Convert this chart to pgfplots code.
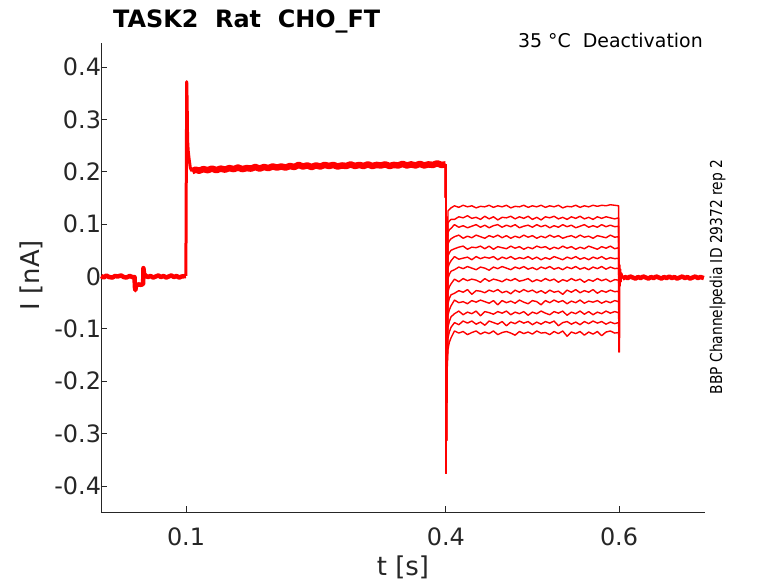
\documentclass[border=0pt]{standalone}
\usepackage{pgfplots}
\pgfplotsset{compat=1.18}
\usepackage{pgfplotstable}
\usepackage{fontspec}
\setmainfont{DejaVu Sans}
\definecolor{axgray}{RGB}{38,38,38}
\definecolor{tracered}{RGB}{255,0,0}

\pgfplotstableread{
t      a      b      c      d      e      f      g      h      i      j      k      l      m
0.3998 0.214  0.214  0.214  0.214  0.214  0.214  0.214  0.214  0.214  0.214  0.214  0.214  0.214
0.4003 -0.375 -0.375 -0.375 -0.375 -0.375 -0.375 -0.375 -0.375 -0.375 -0.375 -0.375 -0.375 -0.375
0.4010 -0.200 -0.200 -0.200 -0.200 -0.200 -0.200 -0.200 -0.200 -0.200 -0.200 -0.200 -0.200 -0.200
0.4025 0.125  0.102  0.084  0.062  0.039  0.017  -0.004 -0.029 -0.052 -0.074 -0.097 -0.118 -0.139
0.4040 0.128  0.106  0.089  0.068  0.045  0.024  0.004  -0.020 -0.042 -0.064 -0.086 -0.106 -0.126
0.4060 0.131  0.109  0.092  0.072  0.050  0.030  0.010  -0.014 -0.035 -0.056 -0.077 -0.097 -0.117
0.410  0.135  0.109  0.099  0.076  0.053  0.038  0.013  -0.005 -0.032 -0.045 -0.071 -0.088 -0.104
0.415  0.132  0.114  0.094  0.079  0.056  0.033  0.018  -0.010 -0.027 -0.050 -0.066 -0.092 -0.108
0.420  0.136  0.112  0.097  0.073  0.058  0.035  0.015  -0.004 -0.030 -0.048 -0.073 -0.085 -0.105
0.425  0.133  0.116  0.093  0.077  0.052  0.037  0.019  -0.008 -0.025 -0.052 -0.068 -0.089 -0.111
0.430  0.135  0.111  0.096  0.074  0.056  0.032  0.016  -0.005 -0.034 -0.046 -0.071 -0.085 -0.107
0.435  0.131  0.113  0.099  0.079  0.055  0.038  0.013  -0.007 -0.027 -0.049 -0.066 -0.091 -0.104
0.440  0.134  0.109  0.094  0.076  0.058  0.034  0.018  -0.011 -0.028 -0.045 -0.075 -0.087 -0.110
0.445  0.133  0.115  0.098  0.073  0.053  0.037  0.016  -0.004 -0.031 -0.048 -0.067 -0.093 -0.106
0.450  0.136  0.110  0.093  0.078  0.058  0.035  0.012  -0.009 -0.026 -0.051 -0.069 -0.085 -0.109
0.455  0.132  0.114  0.097  0.075  0.052  0.038  0.018  -0.005 -0.029 -0.046 -0.072 -0.088 -0.104
0.460  0.135  0.108  0.099  0.079  0.057  0.032  0.015  -0.007 -0.025 -0.054 -0.067 -0.091 -0.111
0.465  0.133  0.113  0.094  0.074  0.055  0.037  0.019  -0.010 -0.031 -0.046 -0.070 -0.086 -0.107
0.470  0.136  0.112  0.098  0.078  0.053  0.034  0.016  -0.005 -0.028 -0.050 -0.066 -0.094 -0.105
0.475  0.131  0.115  0.095  0.073  0.058  0.038  0.013  -0.008 -0.033 -0.047 -0.073 -0.087 -0.108
0.480  0.134  0.110  0.099  0.077  0.054  0.033  0.018  -0.004 -0.026 -0.051 -0.068 -0.090 -0.112
0.485  0.133  0.114  0.093  0.074  0.057  0.036  0.015  -0.009 -0.030 -0.045 -0.071 -0.085 -0.105
0.490  0.136  0.111  0.096  0.079  0.052  0.034  0.019  -0.007 -0.025 -0.049 -0.067 -0.089 -0.109
0.495  0.132  0.115  0.098  0.075  0.056  0.038  0.014  -0.004 -0.029 -0.052 -0.074 -0.086 -0.106
0.500  0.135  0.109  0.094  0.078  0.053  0.033  0.017  -0.010 -0.026 -0.046 -0.068 -0.092 -0.110
0.505  0.133  0.113  0.099  0.073  0.058  0.037  0.013  -0.006 -0.031 -0.048 -0.071 -0.087 -0.104
0.510  0.136  0.108  0.095  0.077  0.055  0.032  0.018  -0.009 -0.027 -0.054 -0.066 -0.091 -0.108
0.515  0.132  0.114  0.098  0.074  0.057  0.036  0.015  -0.004 -0.032 -0.046 -0.070 -0.086 -0.107
0.520  0.135  0.112  0.093  0.079  0.052  0.033  0.019  -0.008 -0.026 -0.050 -0.073 -0.089 -0.111
0.525  0.133  0.115  0.097  0.075  0.056  0.038  0.014  -0.005 -0.030 -0.045 -0.067 -0.085 -0.105
0.530  0.136  0.110  0.094  0.078  0.053  0.035  0.017  -0.011 -0.028 -0.049 -0.070 -0.094 -0.109
0.535  0.131  0.113  0.099  0.073  0.058  0.032  0.013  -0.006 -0.034 -0.046 -0.066 -0.088 -0.104
0.540  0.134  0.109  0.095  0.076  0.054  0.037  0.018  -0.009 -0.026 -0.052 -0.074 -0.086 -0.114
0.545  0.133  0.114  0.098  0.078  0.057  0.034  0.015  -0.004 -0.030 -0.047 -0.068 -0.091 -0.106
0.550  0.136  0.111  0.093  0.074  0.052  0.038  0.019  -0.008 -0.025 -0.050 -0.071 -0.087 -0.109
0.555  0.132  0.115  0.096  0.079  0.056  0.033  0.014  -0.005 -0.031 -0.045 -0.066 -0.092 -0.105
0.560  0.135  0.110  0.099  0.075  0.053  0.036  0.017  -0.011 -0.027 -0.051 -0.072 -0.086 -0.112
0.565  0.133  0.113  0.094  0.077  0.058  0.032  0.013  -0.006 -0.030 -0.047 -0.067 -0.090 -0.106
0.570  0.136  0.109  0.097  0.073  0.055  0.037  0.018  -0.009 -0.025 -0.049 -0.073 -0.085 -0.110
0.575  0.134  0.114  0.094  0.078  0.052  0.034  0.015  -0.004 -0.032 -0.046 -0.068 -0.089 -0.105
0.580  0.136  0.111  0.099  0.076  0.057  0.038  0.019  -0.008 -0.027 -0.051 -0.071 -0.086 -0.113
0.585  0.135  0.114  0.095  0.074  0.054  0.033  0.014  -0.005 -0.030 -0.047 -0.066 -0.091 -0.106
0.590  0.137  0.112  0.098  0.079  0.058  0.036  0.018  -0.010 -0.026 -0.050 -0.070 -0.087 -0.104
0.595  0.136  0.110  0.095  0.075  0.053  0.034  0.015  -0.006 -0.029 -0.046 -0.067 -0.090 -0.108
0.5995 0.135  0.112  0.096  0.076  0.055  0.035  0.016  -0.007 -0.028 -0.048 -0.069 -0.088 -0.107
0.6002 -0.145 -0.140 -0.140 -0.138 -0.138 -0.136 -0.136 -0.134 -0.134 -0.132 -0.132 -0.130 -0.130
}\traces

\begin{document}
\begin{tikzpicture}
\useasboundingbox (-101bp,-71bp) rectangle (677bp,512bp);
\begin{axis}[
  at={(0,0)}, anchor=south west,
  scale only axis, width=604bp, height=469bp,
  xmin=0.0018, xmax=0.6993, ymin=-0.4496, ymax=0.4458,
  axis x line*=bottom, axis y line*=left,
  axis line style={-, draw=axgray, line width=0.8bp},
  xtick={0.1,0.4,0.6},
  ytick={-0.4,-0.3,-0.2,-0.1,0,0.1,0.2,0.3,0.4},
  tick align=inside, major tick length=6bp,
  tick style={draw=axgray, line width=0.8bp},
  /pgf/number format/assume math mode=true,
  /pgf/number format/fixed,
  ticklabel style={font=\fontsize{24}{24}\selectfont, text=axgray},
  xticklabel style={yshift=-12bp},
  yticklabel style={xshift=3.5bp},
  clip=false,
]
% baseline before the step
\addplot[tracered, line width=4.5bp, line join=round] coordinates {
(0.002,0.001) (0.005,-0.002) (0.008,0.002) (0.011,-0.001) (0.015,-0.002) (0.018,0.001)
(0.021,0.000) (0.025,0.002) (0.028,-0.001) (0.031,-0.002) (0.035,0.001) (0.038,-0.001)
(0.0405,-0.001) (0.0410,-0.020) (0.0415,-0.026) (0.0422,-0.018) (0.045,-0.015)
(0.048,-0.016) (0.0505,-0.014) (0.0508,0.016) (0.0514,0.006) (0.053,0.002)
(0.056,-0.001) (0.059,0.001) (0.062,-0.002) (0.065,0.000) (0.068,0.002) (0.071,-0.001)
(0.074,0.001) (0.077,-0.002) (0.080,0.000) (0.083,0.002) (0.086,-0.001) (0.089,0.001)
(0.092,-0.002) (0.095,0.000) (0.0998,0.001)
};
% onset transient at 0.1 s
\addplot[tracered, line width=3bp, line join=round] coordinates {
(0.0998,0.001) (0.1003,0.200) (0.1008,0.372) (0.1013,0.330) (0.1018,0.260)
(0.1025,0.240) (0.1035,0.225) (0.1050,0.207) (0.1070,0.201)
};
% plateau 0.1 - 0.4 s
\addplot[tracered, line width=6.5bp, line join=round] coordinates {
(0.107,0.201) (0.111,0.204) (0.115,0.202) (0.120,0.205) (0.125,0.203) (0.130,0.206)
(0.135,0.203) (0.140,0.206) (0.145,0.204) (0.150,0.207) (0.155,0.205) (0.160,0.208)
(0.165,0.205) (0.170,0.207) (0.175,0.206) (0.180,0.209) (0.185,0.206) (0.190,0.209)
(0.195,0.207) (0.200,0.210) (0.205,0.208) (0.210,0.210) (0.215,0.208) (0.220,0.211)
(0.225,0.209) (0.230,0.213) (0.235,0.210) (0.240,0.212) (0.245,0.209) (0.250,0.212)
(0.255,0.210) (0.260,0.213) (0.265,0.211) (0.270,0.213) (0.275,0.210) (0.280,0.212)
(0.285,0.211) (0.290,0.214) (0.295,0.211) (0.300,0.213) (0.305,0.211) (0.310,0.214)
(0.315,0.211) (0.320,0.213) (0.325,0.212) (0.330,0.214) (0.335,0.211) (0.340,0.213)
(0.345,0.212) (0.350,0.215) (0.355,0.212) (0.360,0.214) (0.365,0.212) (0.370,0.215)
(0.375,0.212) (0.380,0.214) (0.385,0.213) (0.390,0.216) (0.395,0.213) (0.3998,0.214)
};
% the 13 test-pulse sweeps
\addplot[tracered, line width=1.4bp, line join=round] table[x=t,y=a]{\traces};
\addplot[tracered, line width=1.4bp, line join=round] table[x=t,y=b]{\traces};
\addplot[tracered, line width=1.4bp, line join=round] table[x=t,y=c]{\traces};
\addplot[tracered, line width=1.4bp, line join=round] table[x=t,y=d]{\traces};
\addplot[tracered, line width=1.4bp, line join=round] table[x=t,y=e]{\traces};
\addplot[tracered, line width=1.4bp, line join=round] table[x=t,y=f]{\traces};
\addplot[tracered, line width=1.4bp, line join=round] table[x=t,y=g]{\traces};
\addplot[tracered, line width=1.4bp, line join=round] table[x=t,y=h]{\traces};
\addplot[tracered, line width=1.4bp, line join=round] table[x=t,y=i]{\traces};
\addplot[tracered, line width=1.4bp, line join=round] table[x=t,y=j]{\traces};
\addplot[tracered, line width=1.4bp, line join=round] table[x=t,y=k]{\traces};
\addplot[tracered, line width=1.4bp, line join=round] table[x=t,y=l]{\traces};
\addplot[tracered, line width=1.4bp, line join=round] table[x=t,y=m]{\traces};
% tail transient after 0.6 s
\addplot[tracered, line width=2bp, line join=round] coordinates {
(0.6002,-0.145) (0.6006,0.022) (0.6010,-0.018) (0.6015,0.014) (0.6020,-0.010)
(0.6030,0.006) (0.6040,-0.004)
};
\addplot[tracered, line width=4.5bp, line join=round] coordinates {
(0.6040,-0.004) (0.607,-0.001) (0.610,-0.003) (0.613,0.000) (0.616,-0.002) (0.619,-0.004)
(0.622,-0.001) (0.625,-0.003) (0.628,0.000) (0.631,-0.002) (0.634,-0.004) (0.637,-0.001)
(0.640,-0.003) (0.643,0.000) (0.646,-0.002) (0.649,-0.004) (0.652,-0.001) (0.655,-0.003)
(0.658,0.000) (0.661,-0.003) (0.664,-0.001) (0.667,-0.004) (0.670,-0.002) (0.673,0.000)
(0.676,-0.003) (0.679,-0.001) (0.682,-0.004) (0.685,-0.002) (0.688,0.000) (0.691,-0.003)
(0.694,-0.001) (0.698,-0.003)
};
\end{axis}
% titles and labels (positions in bp from the lower left corner of the axis box)
\node[anchor=base west, inner sep=0pt, font=\fontsize{24}{24}\selectfont\bfseries] at (12bp,484bp) {TASK2\ \ Rat\ \ CHO\_FT};
\node[anchor=base east, inner sep=0pt, font=\fontsize{19}{19}\selectfont] at (602bp,464bp) {35 °C\ \ Deactivation};
\node[anchor=base, rotate=90, inner sep=0pt, font=\fontsize{16.5}{16.5}\selectfont] at (621bp,235bp) {\scalebox{0.84}[1]{BBP Channelpedia ID 29372 rep 2}};
\node[anchor=base, inner sep=0pt, text=axgray, font=\fontsize{26}{26}\selectfont] at (302bp,-63bp) {t [s]};
\node[anchor=base, rotate=90, inner sep=0pt, text=axgray, font=\fontsize{26}{26}\selectfont] at (-61bp,237bp) {I [nA]};
\end{tikzpicture}
\end{document}
